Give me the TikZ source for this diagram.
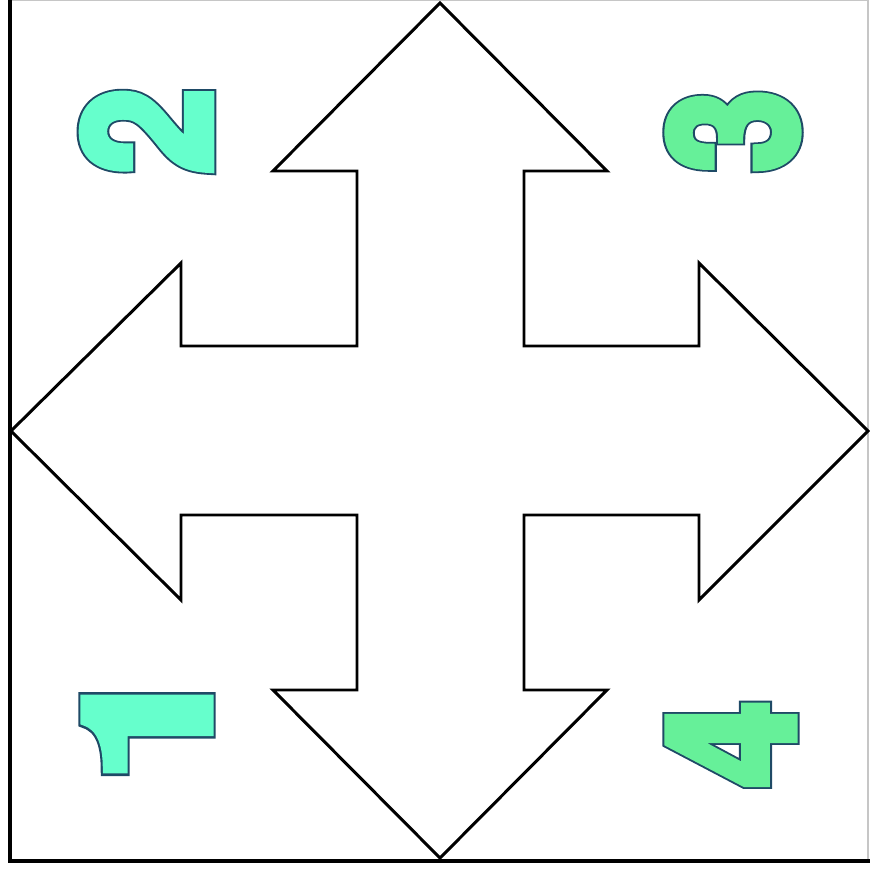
\documentclass[tikz,border=0pt]{standalone}
\usepackage{fontspec}
\usepackage{xcolor}
\newfontfamily\digitfont{TeX Gyre Heros}
% fill colours of the numbers, as pdf rgb triples
\newcommand{\aquargb}{0.40 1 0.80}
\newcommand{\greenrgb}{0.40 0.94 0.60}
\newcommand{\edgergb}{0.12 0.29 0.40}
% heavy outlined glyph: dark wide stroke below, coloured stroke and fill on top
\newcommand{\outlined}[3][0.88]{\scalebox{#1}[1]{%
  \rlap{\special{pdf:literal direct 2 Tr 0 j 2 M 3.6 w \edgergb\space RG \edgergb\space rg}#3}%
  \special{pdf:literal direct 2 Tr 0 j 2 M 2.4 w #2 RG #2 rg}#3%
  \special{pdf:literal direct 0 Tr 10 M 0 0 0 rg 0 0 0 RG}}}

\begin{document}
\begin{tikzpicture}[
  every node/.style={inner sep=0pt},
  digit/.style={rotate=90, font=\digitfont\bfseries\fontsize{50}{50}\selectfont},
  cross/.style={draw=black, line width=0.85pt, fill=white, line join=miter},
  frameline/.style={draw=black, line width=1.2pt},
  edgeline/.style={draw=gray!45, line width=0.5pt},
]
\useasboundingbox (0,0) rectangle (8.7,8.74);
% frame
\draw[edgeline] (0.10,8.735) -- (8.68,8.735) -- (8.68,0.13);
\draw[frameline] (0.10,8.74) -- (0.10,0.13) -- (8.7,0.13);
% four-way arrow
\coordinate (ctr) at (4.40,4.43);
\begin{scope}[shift={(ctr)}]
  \path[cross] (0,4.28) -- (1.67,2.60) -- (0.84,2.60) -- (0.84,0.85)
    -- (2.59,0.85) -- (2.59,1.68) -- (4.28,0) -- (2.59,-1.69) -- (2.59,-0.84)
    -- (0.84,-0.84) -- (0.84,-2.59) -- (1.67,-2.59) -- (0,-4.27)
    -- (-1.67,-2.59) -- (-0.83,-2.59) -- (-0.83,-0.84) -- (-2.59,-0.84)
    -- (-2.59,-1.69) -- (-4.29,0) -- (-2.59,1.68) -- (-2.59,0.85)
    -- (-0.83,0.85) -- (-0.83,2.60) -- (-1.67,2.60) -- cycle;
\end{scope}
% corner numbers
\node[digit] (two)   at (1.465,7.43) {\outlined{\aquargb}{2}};
\node[digit] (three) at (7.33,7.43)  {\outlined[0.84]{\greenrgb}{3}};
\node[digit] (one)   at (1.47,1.52)  {\outlined[1.25]{\aquargb}{1}};
\node[digit] (four)  at (7.31,1.30)  {\outlined{\greenrgb}{4}};
\end{tikzpicture}
\end{document}
